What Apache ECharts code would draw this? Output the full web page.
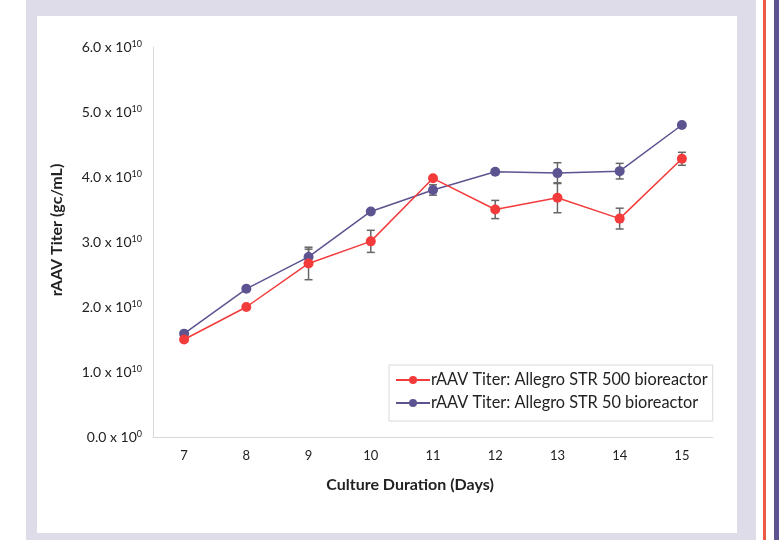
<!DOCTYPE html>
<html><head><meta charset="utf-8">
<script src="https://cdn.jsdelivr.net/npm/echarts@6/dist/echarts.min.js"></script>
<style>html,body{margin:0;padding:0;background:#fff}#c{width:779px;height:540px}</style>
</head><body><div id="c"></div>
<script>
const days = ['7','8','9','10','11','12','13','14','15'];
const str500 = [1.50e10, 2.00e10, 2.67e10, 3.01e10, 3.98e10, 3.50e10, 3.68e10, 3.36e10, 4.28e10];
const str500Err = [0, 0, 0.25e10, 0.17e10, 0, 0.14e10, 0.23e10, 0.16e10, 0.10e10];
const str50 = [1.59e10, 2.28e10, 2.77e10, 3.47e10, 3.80e10, 4.08e10, 4.06e10, 4.09e10, 4.80e10];
const str50Err = [0, 0, 0.12e10, 0, 0.08e10, 0, 0.16e10, 0.12e10, 0];
const yTicks = [0, 1e10, 2e10, 3e10, 4e10, 5e10, 6e10];
const name500 = 'rAAV Titer: Allegro STR 500 bioreactor';
const name50 = 'rAAV Titer: Allegro STR 50 bioreactor';

const RED = '#f43b3b', PURPLE = '#5b5490';
const FONT = 'Lato';

function errSeries(vals, errs, name) {
  return {
    type: 'custom', name: name + ' err', z: 1, silent: true,
    data: vals.map((v, i) => [i, v, errs[i]]),
    renderItem: function (params, api) {
      const e = api.value(2);
      if (!e) return null;
      const x = api.value(0), v = api.value(1);
      const top = api.coord([x, v + e]), bot = api.coord([x, v - e]);
      const w = 4;
      const st = { stroke: '#666', lineWidth: 1.5 };
      return { type: 'group', children: [
        { type: 'line', shape: { x1: top[0], y1: top[1], x2: bot[0], y2: bot[1] }, style: st },
        { type: 'line', shape: { x1: top[0] - w, y1: top[1], x2: top[0] + w, y2: top[1] }, style: st },
        { type: 'line', shape: { x1: bot[0] - w, y1: bot[1], x2: bot[0] + w, y2: bot[1] }, style: st }
      ]};
    }
  };
}

const chart = echarts.init(document.getElementById('c'), null, { renderer: 'canvas' });
chart.setOption({
  animation: false,
  textStyle: { fontFamily: FONT },
  graphic: [
    { type: 'rect', z: -10, shape: { x: 26, y: 0, width: 730, height: 540 }, style: { fill: '#dddce8' } },
    { type: 'rect', z: -9, shape: { x: 37, y: 16, width: 700, height: 517 }, style: { fill: '#ffffff' } },
    { type: 'rect', z: -9, shape: { x: 763, y: 0, width: 3, height: 540 }, style: { fill: '#ef5a45' } },
    { type: 'rect', z: -9, shape: { x: 774, y: 0, width: 5, height: 540 }, style: { fill: '#5b5490' } }
  ],
  grid: { left: 153, right: 66, top: 47, bottom: 103, containLabel: false },
  legend: {
    orient: 'vertical', left: 389, top: 365,
    padding: [7, 5, 10, 6], itemGap: 7,
    borderColor: '#d9d9d9', borderWidth: 1,
    itemWidth: 34, itemHeight: 10,
    textStyle: { fontFamily: FONT, fontSize: 16.3, color: '#222', padding: [0, 0, 0, -4] },
    data: [name500, name50]
  },
  xAxis: {
    type: 'category', data: days, boundaryGap: true,
    axisLine: { lineStyle: { color: '#d9d9d9', width: 1 } },
    axisTick: { show: false },
    axisLabel: { color: '#222', fontSize: 13, margin: 12, fontFamily: FONT },
    name: 'Culture Duration (Days)', nameLocation: 'middle', nameGap: 40,
    nameTextStyle: { fontFamily: FONT, fontWeight: 'bold', fontSize: 16, color: '#222', padding: [0, 46, 0, 0] }
  },
  yAxis: {
    type: 'value', min: yTicks[0], max: yTicks[yTicks.length - 1], interval: 1e10,
    axisLine: { show: true, lineStyle: { color: '#d9d9d9', width: 1 } },
    axisTick: { show: false },
    splitLine: { show: false },
    axisLabel: {
      margin: 11, color: '#222', fontSize: 14, fontFamily: FONT,
      formatter: function (v) {
        if (v === 0) return '0.0 x 10{sup|0}';
        return (v / 1e10).toFixed(1) + ' x 10{sup|10}';
      },
      rich: { sup: { fontSize: 9, fontFamily: FONT, color: '#222', padding: [0, 0, 6, 0] } }
    },
    name: 'rAAV Titer (gc/mL)', nameLocation: 'middle', nameGap: 88,
    nameTextStyle: { fontFamily: FONT, fontWeight: 'bold', fontSize: 16, color: '#222', padding: [0, 0, 0, 24] }
  },
  series: [
    errSeries(str500, str500Err, name500),
    errSeries(str50, str50Err, name50),
    { type: 'line', name: name500, data: str500, z: 3, symbol: 'circle', symbolSize: 10,
      itemStyle: { color: RED }, lineStyle: { color: RED, width: 1.5 } },
    { type: 'line', name: name50, data: str50, z: 2, symbol: 'circle', symbolSize: 10,
      itemStyle: { color: PURPLE }, lineStyle: { color: PURPLE, width: 1.5 } }
  ]
});
</script></body></html>
